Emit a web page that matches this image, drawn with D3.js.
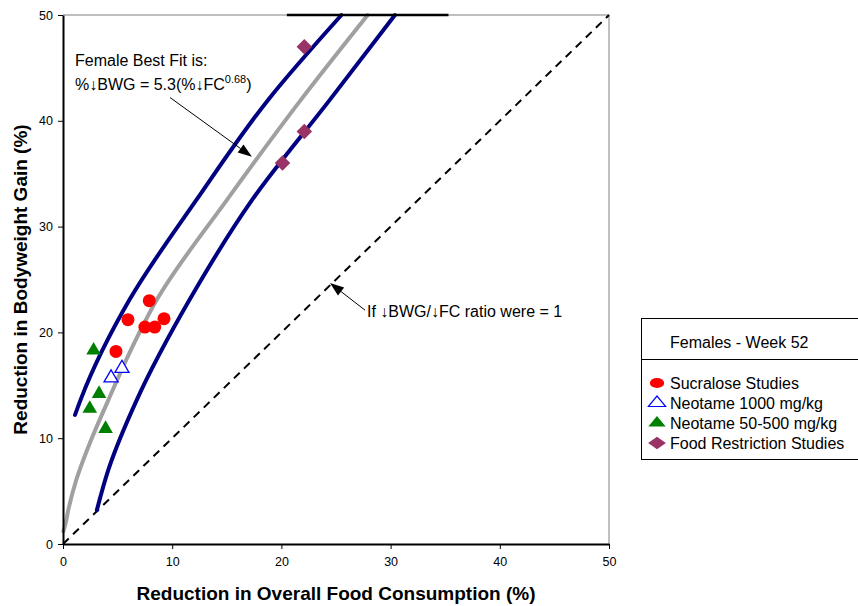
<!DOCTYPE html>
<html>
<head>
<meta charset="utf-8">
<script src="https://cdn.jsdelivr.net/npm/d3@7"></script>
<style>
  body { margin: 0; background: #fff; }
  svg { display: block; }
  text { font-family: "Liberation Sans", Arial, Helvetica, sans-serif; fill: #000; }
</style>
</head>
<body>
<svg id="chart" width="858" height="606"></svg>
<script>
// ---- data ----
const xTicks = [0, 10, 20, 30, 40, 50];
const yTicks = [0, 10, 20, 30, 40, 50];

// [% reduction in food consumption, % reduction in bodyweight gain]
const sucralose       = [[7.9, 23.0], [5.95, 21.2], [7.5, 20.5], [8.4, 20.5], [9.25, 21.3], [4.85, 18.2]];
const neotame1000     = [[4.4, 15.7], [5.4, 16.6]];
const neotame50to500  = [[2.8, 18.3], [3.3, 14.2], [2.45, 12.8], [3.9, 10.9]];
const foodRestriction = [[22.1, 47.0], [22.1, 39.0], [20.1, 36.0]];

// best-fit curve and its upper / lower bands
const fitCurve   = [[0.03, 1.2], [0.2, 1.8], [0.5, 3.3], [1.2, 6.0], [2.6, 9.9], [4.15, 13.6], [6.2, 18.3], [8.6, 23.1], [15.0, 32.5], [21.8, 42.0], [27.9, 50]];
const upperBound = [[1.1, 12.2], [1.6, 13.6], [6.1, 23.1], [12.2, 32.5], [18.8, 42.0], [25.5, 50]];
const lowerBound = [[3.1, 3.2], [4.15, 7.0], [6.75, 13.6], [11.6, 23.1], [17.3, 32.5], [24.45, 42.0], [30.4, 50]];

const unityLine = [[0, 0], [50, 50]];
const topBar    = [[20.5, 50], [35.3, 50]];

const legendTitle = "Females - Week 52";
const legendItems = [
  { key: "sucralose", label: "Sucralose Studies" },
  { key: "neo1000",   label: "Neotame 1000 mg/kg" },
  { key: "neo50",     label: "Neotame 50-500 mg/kg" },
  { key: "food",      label: "Food Restriction Studies" }
];

// ---- layout ----
const svg = d3.select("#chart");
const plot = { left: 63, right: 609, top: 15, bottom: 544 };
const x = d3.scaleLinear().domain([0, 50]).range([plot.left, plot.right]);
const y = d3.scaleLinear().domain([0, 50]).range([plot.bottom, plot.top]);

const NAVY = "#000080", GREY = "#a0a0a0", RED = "#ff0000",
      BLUE = "#0000ff", GREEN = "#008000", PLUM = "#993366";

// plot-area frame (top and right)
svg.append("path")
  .attr("d", `M${plot.left},${plot.top}H${plot.right}V${plot.bottom}`)
  .attr("fill", "none").attr("stroke", "#808080").attr("stroke-width", 1);

// ---- lines ----
const line = d3.line().x(d => x(d[0])).y(d => y(d[1])).curve(d3.curveMonotoneY);

svg.append("path").datum(unityLine)
  .attr("d", d3.line().x(d => x(d[0])).y(d => y(d[1])))
  .attr("fill", "none").attr("stroke", "#000").attr("stroke-width", 2)
  .attr("stroke-dasharray", "8,6");

[[upperBound, NAVY], [lowerBound, NAVY], [fitCurve, GREY]].forEach(([d, c]) => {
  svg.append("path").datum(d).attr("d", line)
    .attr("fill", "none").attr("stroke", c).attr("stroke-width", 4)
    .attr("stroke-linecap", "round");
});

svg.append("path").datum(topBar)
  .attr("d", d3.line().x(d => x(d[0])).y(d => y(d[1])))
  .attr("stroke", "#000").attr("stroke-width", 2.5);

// ---- axes ----
const xAxis = svg.append("g").attr("transform", `translate(0,${plot.bottom})`)
  .call(d3.axisBottom(x).tickValues(xTicks).tickSize(5).tickSizeOuter(0).tickPadding(8));
const yAxis = svg.append("g").attr("transform", `translate(${plot.left},0)`)
  .call(d3.axisLeft(y).tickValues(yTicks).tickSize(5).tickSizeOuter(0).tickPadding(5));
[xAxis, yAxis].forEach(g => {
  g.select(".domain").attr("stroke", "#000").attr("stroke-width", 2);
  g.selectAll(".tick line").attr("stroke", "#000");
  g.selectAll(".tick text").attr("font-size", 12.5)
    .attr("font-family", '"Liberation Sans", Arial, sans-serif').attr("fill", "#000");
});

// ---- markers ----
const sym = (type, size) => d3.symbol().type(type).size(size)();

svg.append("g").selectAll("circle").data(sucralose).join("circle")
  .attr("cx", d => x(d[0])).attr("cy", d => y(d[1])).attr("r", 6.5).attr("fill", RED);

svg.append("g").selectAll("path").data(neotame50to500).join("path")
  .attr("d", sym(d3.symbolTriangle, 92))
  .attr("transform", d => `translate(${x(d[0])},${y(d[1])})`).attr("fill", GREEN);

svg.append("g").selectAll("path").data(neotame1000).join("path")
  .attr("d", sym(d3.symbolTriangle, 85))
  .attr("transform", d => `translate(${x(d[0])},${y(d[1])})`)
  .attr("fill", "#fff").attr("stroke", BLUE).attr("stroke-width", 1.3);

svg.append("g").selectAll("path").data(foodRestriction).join("path")
  .attr("d", sym(d3.symbolSquare, 120))
  .attr("transform", d => `translate(${x(d[0])},${y(d[1])}) rotate(45)`).attr("fill", PLUM);

// ---- annotations ----
function arrow(x1, y1, x2, y2) {
  const a = Math.atan2(y2 - y1, x2 - x1), L = 14, W = 5;
  const bx = x2 - L * Math.cos(a), by = y2 - L * Math.sin(a);
  svg.append("line").attr("x1", x1).attr("y1", y1).attr("x2", bx).attr("y2", by)
    .attr("stroke", "#000").attr("stroke-width", 1);
  svg.append("path")
    .attr("d", `M${x2},${y2}L${bx - W * Math.sin(a)},${by + W * Math.cos(a)}L${bx + W * Math.sin(a)},${by - W * Math.cos(a)}Z`)
    .attr("fill", "#000");
}

svg.append("text").attr("x", x(1.1)).attr("y", y(45.2)).attr("font-size", 16)
  .text("Female Best Fit is:");
const eq = svg.append("text").attr("x", x(1.1)).attr("y", y(42.9)).attr("font-size", 16);
eq.append("tspan").text("%\u2193BWG = 5.3(%\u2193FC");
eq.append("tspan").attr("dy", -7).attr("font-size", 11).text("0.68");
eq.append("tspan").attr("dy", 7).text(")");
arrow(x(9.8), y(42.2), x(17.3), y(36.6));

svg.append("text").attr("x", x(27.84)).attr("y", y(21.45)).attr("font-size", 16)
  .text("If \u2193BWG/\u2193FC ratio were = 1");
arrow(x(27.66), y(22.1), x(24.45), y(24.67));

// ---- axis titles ----
svg.append("text").attr("x", (plot.left + plot.right) / 2).attr("y", 600)
  .attr("text-anchor", "middle").attr("font-size", 19).attr("font-weight", "bold")
  .text("Reduction in Overall Food Consumption (%)");
svg.append("text").attr("transform", `translate(27,${(plot.top + plot.bottom) / 2}) rotate(-90)`)
  .attr("text-anchor", "middle").attr("font-size", 19).attr("font-weight", "bold")
  .text("Reduction in Bodyweight Gain (%)");

// ---- legend ----
const lg = svg.append("g");
lg.append("rect").attr("x", 641.5).attr("y", 318.5).attr("width", 240).attr("height", 141)
  .attr("fill", "#fff").attr("stroke", "#000").attr("stroke-width", 1);
lg.append("line").attr("x1", 641.5).attr("x2", 858).attr("y1", 359.5).attr("y2", 359.5)
  .attr("stroke", "#000").attr("stroke-width", 1);
lg.append("text").attr("x", 670).attr("y", 348).attr("font-size", 16).text(legendTitle);

const row = lg.selectAll("g.item").data(legendItems).join("g")
  .attr("class", "item").attr("transform", (d, i) => `translate(0,${383 + i * 20})`);
row.append("text").attr("x", 670).attr("y", 5.5).attr("font-size", 16).text(d => d.label);
row.each(function (d) {
  const g = d3.select(this).append("g").attr("transform", "translate(657,0) scale(1.2,0.85)");
  if (d.key === "sucralose") g.append("circle").attr("r", 6).attr("fill", RED);
  if (d.key === "neo1000") g.append("path").attr("d", sym(d3.symbolTriangle, 90))
    .attr("fill", "#fff").attr("stroke", BLUE).attr("stroke-width", 1.2);
  if (d.key === "neo50") g.append("path").attr("d", sym(d3.symbolTriangle, 90)).attr("fill", GREEN);
  if (d.key === "food") g.append("path").attr("d", sym(d3.symbolSquare, 110))
    .attr("transform", "rotate(45)").attr("fill", PLUM);
});
</script>
</body>
</html>
